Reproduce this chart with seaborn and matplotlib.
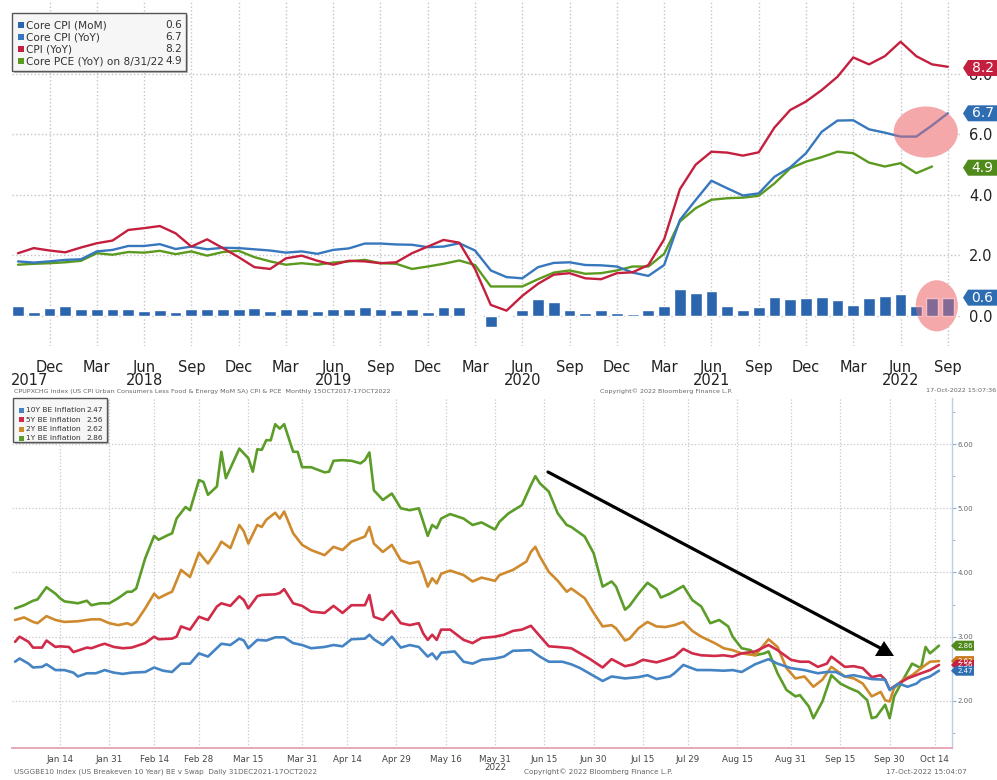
import numpy as np
import pandas as pd
import matplotlib
matplotlib.use("Agg")
import matplotlib.pyplot as plt
import seaborn as sns
from matplotlib.patches import Ellipse, Polygon, Rectangle

W, H = 997, 780

# ---------------- top panel: monthly, Oct 2017 .. Sep 2022 ----------------
core_cpi_mom = [0.33, 0.14, 0.25, 0.33, 0.24, 0.24, 0.24, 0.24, 0.17, 0.19,
                0.11, 0.23, 0.23, 0.22, 0.22, 0.26, 0.17, 0.23, 0.23, 0.17,
                0.24, 0.24, 0.29, 0.21, 0.20, 0.21, 0.12, 0.28, 0.29, -0.04,
                -0.37, -0.04, 0.20, 0.57, 0.44, 0.20, 0.08, 0.20, 0.08, 0.07,
                0.18, 0.33, 0.88, 0.75, 0.82, 0.33, 0.20, 0.28, 0.63, 0.55,
                0.58, 0.61, 0.53, 0.35, 0.58, 0.64, 0.72, 0.33, 0.58, 0.58]
core_cpi_yoy = [1.80, 1.76, 1.80, 1.85, 1.87, 2.13, 2.18, 2.31, 2.31, 2.37,
                2.21, 2.29, 2.20, 2.25, 2.24, 2.20, 2.16, 2.09, 2.13, 2.05,
                2.18, 2.23, 2.39, 2.39, 2.36, 2.35, 2.27, 2.29, 2.40, 2.16,
                1.50, 1.28, 1.24, 1.61, 1.75, 1.77, 1.68, 1.67, 1.63, 1.43,
                1.32, 1.68, 3.17, 3.83, 4.47, 4.22, 3.98, 4.05, 4.60, 4.91,
                5.38, 6.09, 6.46, 6.47, 6.17, 6.06, 5.93, 5.93, 6.30, 6.70]
cpi_yoy = [2.07, 2.24, 2.16, 2.10, 2.26, 2.40, 2.49, 2.84, 2.90, 2.97,
           2.73, 2.29, 2.53, 2.24, 1.94, 1.61, 1.55, 1.90, 1.99, 1.82,
           1.69, 1.82, 1.80, 1.74, 1.77, 2.07, 2.29, 2.51, 2.42, 1.55,
           0.36, 0.17, 0.66, 1.06, 1.36, 1.41, 1.24, 1.21, 1.41, 1.44,
           1.68, 2.53, 4.19, 5.00, 5.43, 5.40, 5.30, 5.41, 6.23, 6.81,
           7.09, 7.47, 7.91, 8.55, 8.32, 8.59, 9.07, 8.59, 8.32, 8.24]
core_pce_yoy = [1.69, 1.72, 1.74, 1.77, 1.82, 2.07, 2.02, 2.11, 2.09, 2.15,
                2.04, 2.13, 1.99, 2.11, 2.15, 1.94, 1.80, 1.69, 1.74, 1.69,
                1.76, 1.80, 1.85, 1.74, 1.72, 1.55, 1.63, 1.72, 1.83, 1.68,
                0.97, 0.97, 0.97, 1.21, 1.43, 1.50, 1.39, 1.41, 1.50, 1.63,
                1.63, 2.05, 3.12, 3.56, 3.84, 3.89, 3.91, 3.97, 4.38, 4.88,
                5.10, 5.25, 5.43, 5.38, 5.07, 4.94, 5.05, 4.72, 4.94]
top_tick_months = ["Dec", "Mar", "Jun", "Sep"] * 5
top_years = ["2017", "2018", "2019", "2020", "2021", "2022"]
top_legend = [("Core CPI (MoM)", "0.6"), ("Core CPI (YoY)", "6.7"),
              ("CPI (YoY)", "8.2"), ("Core PCE (YoY) on 8/31/22", "4.9")]

# ---------------- bottom panel: business days since 31 Dec 2021 ----------------
be1_day = [0, 2, 4, 5, 7, 9, 10, 11, 14, 16, 17, 19, 21, 23, 25, 26, 27, 29, 31, 32,
           34, 35, 36, 38, 39, 41, 42, 43, 45, 46, 47, 50, 52, 53, 54, 55, 56, 57, 58, 59,
           60, 62, 63, 64, 66, 69, 70, 71, 73, 75, 77, 78, 79, 80, 82, 84, 86, 88, 90, 91,
           92, 93, 94, 95, 97, 100, 102, 104, 107, 108, 110, 113, 115, 116, 117, 119, 121, 123, 124, 126,
           127, 129, 131, 133, 134, 136, 137, 139, 141, 143, 144, 146, 149, 151, 153, 155, 157, 159, 160, 162,
           164, 165, 167, 168, 170, 172, 174, 175, 177, 178, 180, 182, 184, 186, 188, 190, 191, 192, 194, 195,
           196, 198, 200, 202, 203, 204, 206]
be1_val = [3.44, 3.49, 3.56, 3.58, 3.77, 3.67, 3.60, 3.55, 3.52, 3.56, 3.49, 3.52, 3.52, 3.60, 3.70, 3.70, 3.75, 4.22, 4.57, 4.51,
           4.58, 4.61, 4.84, 5.02, 4.97, 5.44, 5.41, 5.21, 5.34, 5.88, 5.47, 5.93, 5.78, 5.57, 5.92, 5.91, 6.06, 6.06, 6.31, 6.24,
           6.31, 5.88, 5.88, 5.64, 5.64, 5.56, 5.57, 5.74, 5.75, 5.74, 5.70, 5.75, 5.87, 5.28, 5.13, 5.23, 5.00, 4.97, 5.00, 4.79,
           4.57, 4.74, 4.69, 4.84, 4.91, 4.84, 4.74, 4.78, 4.67, 4.79, 4.92, 5.05, 5.36, 5.50, 5.39, 5.26, 4.92, 4.74, 4.71, 4.61,
           4.56, 4.30, 3.78, 3.86, 3.78, 3.42, 3.48, 3.67, 3.84, 3.74, 3.61, 3.67, 3.79, 3.57, 3.47, 3.21, 3.26, 3.16, 3.00, 2.82,
           2.79, 2.71, 2.74, 2.77, 2.43, 2.17, 2.07, 2.09, 1.91, 1.73, 1.99, 2.40, 2.27, 2.20, 2.14, 2.01, 1.73, 1.75, 1.94, 1.73,
           2.07, 2.33, 2.58, 2.51, 2.84, 2.74, 2.86]

be2_day = [0, 2, 4, 5, 7, 9, 11, 14, 17, 19, 21, 23, 25, 26, 27, 29, 31, 32, 34, 35,
           37, 39, 41, 43, 45, 46, 48, 50, 51, 52, 54, 55, 56, 58, 59, 60, 62, 64, 66, 69,
           71, 73, 75, 78, 79, 80, 82, 84, 86, 88, 90, 91, 92, 93, 94, 95, 97, 100, 102, 104,
           107, 108, 111, 114, 115, 116, 117, 119, 121, 123, 124, 127, 129, 131, 133, 134, 136, 137, 139, 141,
           143, 145, 147, 149, 151, 153, 156, 158, 160, 162, 165, 168, 170, 172, 174, 176, 178, 180, 182, 185,
           187, 189, 191, 193, 194, 195, 196, 198, 200, 202, 204, 206]
be2_val = [3.26, 3.30, 3.23, 3.21, 3.32, 3.26, 3.23, 3.24, 3.27, 3.27, 3.21, 3.18, 3.21, 3.18, 3.23, 3.44, 3.67, 3.60, 3.67, 3.70,
           4.04, 3.93, 4.31, 4.14, 4.35, 4.48, 4.38, 4.74, 4.64, 4.45, 4.74, 4.71, 4.82, 4.93, 4.84, 4.95, 4.61, 4.43, 4.35, 4.27,
           4.40, 4.35, 4.48, 4.56, 4.71, 4.45, 4.32, 4.43, 4.19, 4.14, 4.17, 3.99, 3.78, 3.91, 3.83, 3.98, 4.03, 3.96, 3.86, 3.92,
           3.87, 3.96, 4.04, 4.17, 4.32, 4.40, 4.25, 4.01, 3.87, 3.70, 3.75, 3.60, 3.37, 3.16, 3.18, 3.13, 2.94, 2.97, 3.13, 3.23,
           3.16, 3.15, 3.18, 3.23, 3.09, 3.00, 2.90, 2.82, 2.79, 2.74, 2.71, 2.96, 2.84, 2.51, 2.35, 2.38, 2.22, 2.33, 2.53, 2.38,
           2.35, 2.27, 2.07, 2.14, 2.01, 1.99, 2.20, 2.33, 2.40, 2.51, 2.61, 2.62]

be5_day = [0, 1, 3, 4, 6, 7, 9, 10, 12, 13, 16, 17, 19, 20, 22, 24, 26, 29, 31, 32,
           35, 36, 37, 39, 41, 43, 45, 46, 48, 50, 51, 52, 54, 55, 58, 59, 60, 62, 64, 66,
           69, 71, 73, 75, 78, 79, 80, 82, 84, 86, 88, 90, 91, 92, 93, 94, 95, 97, 100, 102,
           104, 107, 109, 111, 113, 115, 117, 119, 121, 124, 126, 128, 131, 133, 136, 138, 140, 143, 145, 147,
           149, 151, 153, 156, 158, 160, 162, 165, 168, 170, 173, 175, 177, 179, 181, 182, 185, 187, 189, 191,
           193, 194, 195, 197, 199, 202, 204, 206]
be5_val = [2.92, 3.00, 2.92, 2.83, 2.83, 2.94, 2.84, 2.85, 2.84, 2.76, 2.83, 2.82, 2.87, 2.89, 2.84, 2.82, 2.83, 2.90, 3.00, 2.96,
           2.97, 3.00, 3.16, 3.11, 3.31, 3.26, 3.47, 3.52, 3.48, 3.63, 3.57, 3.44, 3.63, 3.65, 3.66, 3.68, 3.74, 3.52, 3.48, 3.39,
           3.37, 3.48, 3.37, 3.49, 3.49, 3.65, 3.31, 3.26, 3.40, 3.21, 3.18, 3.21, 3.05, 2.95, 3.03, 2.95, 3.11, 3.11, 2.95, 2.90,
           2.98, 3.00, 3.03, 3.09, 3.11, 3.17, 3.01, 2.85, 2.84, 2.82, 2.74, 2.66, 2.52, 2.65, 2.54, 2.57, 2.64, 2.60, 2.64, 2.69,
           2.81, 2.74, 2.71, 2.70, 2.71, 2.69, 2.74, 2.77, 2.87, 2.79, 2.64, 2.61, 2.61, 2.53, 2.58, 2.69, 2.53, 2.54, 2.51, 2.37,
           2.40, 2.33, 2.18, 2.27, 2.35, 2.43, 2.48, 2.56]

be10_day = [0, 1, 3, 4, 6, 7, 9, 11, 13, 14, 16, 18, 20, 22, 24, 26, 29, 31, 33, 35,
            37, 39, 41, 43, 46, 48, 50, 51, 52, 54, 56, 58, 60, 62, 64, 66, 69, 71, 73, 75,
            78, 79, 80, 82, 84, 86, 88, 90, 92, 93, 94, 95, 98, 100, 102, 104, 107, 109, 111, 115,
            117, 119, 122, 124, 126, 129, 131, 133, 136, 139, 141, 143, 146, 147, 149, 152, 155, 158, 160, 162,
            165, 168, 170, 173, 176, 179, 181, 183, 185, 187, 189, 191, 194, 195, 197, 199, 201, 202, 204, 206]
be10_val = [2.61, 2.66, 2.58, 2.52, 2.53, 2.57, 2.48, 2.48, 2.44, 2.38, 2.43, 2.43, 2.48, 2.44, 2.42, 2.44, 2.45, 2.52, 2.47, 2.45,
            2.58, 2.58, 2.74, 2.69, 2.89, 2.87, 2.97, 2.94, 2.82, 2.95, 2.94, 2.99, 2.99, 2.90, 2.87, 2.82, 2.84, 2.87, 2.85, 2.96,
            2.97, 3.03, 2.96, 2.87, 3.00, 2.83, 2.87, 2.84, 2.69, 2.74, 2.65, 2.75, 2.77, 2.61, 2.58, 2.64, 2.66, 2.69, 2.78, 2.79,
            2.69, 2.61, 2.61, 2.57, 2.51, 2.39, 2.31, 2.38, 2.35, 2.37, 2.40, 2.34, 2.38, 2.43, 2.56, 2.48, 2.48, 2.47, 2.48, 2.45,
            2.57, 2.65, 2.58, 2.51, 2.48, 2.43, 2.45, 2.45, 2.38, 2.40, 2.37, 2.34, 2.33, 2.17, 2.27, 2.22, 2.27, 2.33, 2.38, 2.47]

bottom_tick_dates = ["2022-01-14", "2022-01-31", "2022-02-14", "2022-02-28", "2022-03-15",
                     "2022-03-31", "2022-04-14", "2022-04-29", "2022-05-16", "2022-05-31",
                     "2022-06-15", "2022-06-30", "2022-07-15", "2022-07-29", "2022-08-15",
                     "2022-08-31", "2022-09-15", "2022-09-30", "2022-10-14"]
bottom_tick_labels = ["Jan 14", "Jan 31", "Feb 14", "Feb 28", "Mar 15", "Mar 31", "Apr 14",
                      "Apr 29", "May 16", "May 31", "Jun 15", "Jun 30", "Jul 15", "Jul 29",
                      "Aug 15", "Aug 31", "Sep 15", "Sep 30", "Oct 14"]
bottom_legend = [("10Y BE Inflation", "2.47"), ("5Y BE Inflation", "2.56"),
                 ("2Y BE Inflation", "2.62"), ("1Y BE Inflation", "2.86")]

# colours
c_bar = "#2b65ad"
c_core = "#3677bd"
c_cpi = "#c41f3e"
c_pce = "#5b9a1f"
c_be10 = "#4584c4"
c_be5 = "#d02c4a"
c_be2 = "#cf8a2e"
c_be1 = "#5c9d29"

sns.set_style("white")
plt.rcParams["font.family"] = ["DejaVu Sans"]

fig = plt.figure(figsize=(W / 100, H / 100), dpi=100)


def fx(x):
    return x / W


def fy(y):
    return 1 - y / H


def tag(ax, value, text, color, x0, x1, half_h, fs):
    # Bloomberg style last-value tag at the right edge
    yc = H - ax.transData.transform((0, value))[1]
    pts = [(x0, yc), (x0 + 5, yc - half_h), (x1, yc - half_h), (x1, yc + half_h), (x0 + 5, yc + half_h)]
    fig.add_artist(Polygon([(fx(a), fy(b)) for a, b in pts], closed=True,
                           transform=fig.transFigure, facecolor=color, edgecolor="none", zorder=5))
    fig.text(fx((x0 + 5 + x1) / 2), fy(yc), text, color="white", fontsize=fs,
             ha="center", va="center", zorder=6)


def legend_box(x0, y0, x1, y1, rows, colors, fs, sq, val_x, row_y):
    fig.add_artist(Rectangle((fx(x0 + 2), fy(y1 + 2)), fx(x1 - x0), (y1 - y0) / H,
                             transform=fig.transFigure, facecolor="#bbbbbb", edgecolor="none", zorder=7))
    fig.add_artist(Rectangle((fx(x0), fy(y1)), fx(x1 - x0), (y1 - y0) / H,
                             transform=fig.transFigure, facecolor="#f6f6f6", edgecolor="#555555",
                             lw=1, zorder=8))
    for (name, val), col, ry in zip(rows, colors, row_y):
        fig.add_artist(Rectangle((fx(x0 + 6), fy(ry + sq / 2)), fx(sq), sq / H,
                                 transform=fig.transFigure, facecolor=col, edgecolor="none", zorder=9))
        fig.text(fx(x0 + 8 + sq), fy(ry), name, fontsize=fs, color="#333333", va="center", zorder=9)
        fig.text(fx(val_x), fy(ry), val, fontsize=fs, color="#333333", va="center", ha="right", zorder=9)


# ======================= TOP PANEL =======================
ax1 = fig.add_axes([fx(12), fy(346), fx(962) - fx(12), 346 / H])

months = np.arange(len(core_cpi_yoy))
top = pd.DataFrame({"m": months, "Core CPI (YoY)": core_cpi_yoy, "CPI (YoY)": cpi_yoy,
                    "Core PCE (YoY)": core_pce_yoy + [np.nan]})
top_long = top.melt(id_vars="m", var_name="series", value_name="val").dropna()

sns.barplot(x=months, y=core_cpi_mom, native_scale=True, width=0.75, color=c_bar,
            saturation=1, errorbar=None, ax=ax1, zorder=2)
sns.lineplot(data=top_long, x="m", y="val", hue="series", estimator=None,
             palette={"Core CPI (YoY)": c_core, "CPI (YoY)": c_cpi, "Core PCE (YoY)": c_pce},
             hue_order=["Core PCE (YoY)", "Core CPI (YoY)", "CPI (YoY)"],
             lw=1.7, legend=False, ax=ax1, zorder=3)

ax1.set_xlim(-0.38, 59.9)
ax1.set_ylim(-1.0, 10.45)
ax1.set_xlabel("")
ax1.set_ylabel("")
ax1.set_xticks(np.arange(2, 60, 3))
ax1.set_xticklabels(top_tick_months)
ax1.set_yticks([0, 2, 4, 6, 8])
ax1.set_yticklabels(["0.0", "2.0", "4.0", "6.0", "8.0"])
ax1.yaxis.tick_right()
ax1.tick_params(axis="y", length=0, pad=5, labelsize=10.5, labelcolor="#222222")
ax1.tick_params(axis="x", length=0, pad=10, labelsize=10.5, labelcolor="#222222")
ax1.grid(True, color="#c4c4c4", ls=":", lw=1.0)
ax1.set_axisbelow(True)
for s in ax1.spines.values():
    s.set_visible(False)

year_pos = [0.76, 8, 20, 32, 44, 56]
for yp, yl in zip(year_pos, top_years):
    ax1.text(yp, -0.10, yl, transform=ax1.get_xaxis_transform(), ha="center", va="center",
             fontsize=10.5, color="#222222")

# highlight circles (semi transparent marker look)
for (cx, cy, ew, eh) in [(57.6, 6.08, 4.07, 1.69), (58.3, 0.33, 2.67, 1.69)]:
    ax1.add_patch(Ellipse((cx, cy), ew, eh, facecolor="#f9d8d2", edgecolor="none", zorder=1))
    ax1.add_patch(Ellipse((cx, cy), ew, eh, facecolor="#f06e78", alpha=0.45, edgecolor="none", zorder=4))

legend_box(12, 13, 186, 71, top_legend, [c_bar, c_core, c_cpi, c_pce], 7.6, 6, 182, [25, 37, 49, 61])

tag(ax1, 8.2, "8.2", "#c41f3e", 963, 997, 8, 10)
tag(ax1, 6.7, "6.7", "#2f6db3", 963, 997, 8, 10)
tag(ax1, 4.9, "4.9", "#4f8a1a", 963, 997, 8, 10)
tag(ax1, 0.6, "0.6", "#2f6db3", 963, 997, 8, 10)

fig.text(fx(14), fy(391), "CPUPXCHG Index (US CPI Urban Consumers Less Food & Energy MoM SA) CPI & PCE  "
         "Monthly 15OCT2017-17OCT2022", fontsize=4.6, color="#666666", va="center")
fig.text(fx(666), fy(391), "Copyright\u00a9 2022 Bloomberg Finance L.P.", fontsize=4.6,
         color="#666666", va="center", ha="center")
fig.text(fx(996), fy(391), "17-Oct-2022 15:07:36", fontsize=4.6, color="#666666",
         va="center", ha="right")

# ======================= BOTTOM PANEL =======================
ax2 = fig.add_axes([fx(12), fy(748), fx(952) - fx(12), (748 - 398) / H])

bdays = pd.bdate_range("2021-12-31", "2022-10-17")
frames = []
for name, d, v in [("10Y BE Inflation", be10_day, be10_val), ("5Y BE Inflation", be5_day, be5_val),
                   ("2Y BE Inflation", be2_day, be2_val), ("1Y BE Inflation", be1_day, be1_val)]:
    frames.append(pd.DataFrame({"day": d, "val": v, "series": name}))
bottom = pd.concat(frames, ignore_index=True)

sns.lineplot(data=bottom, x="day", y="val", hue="series", estimator=None, sort=False,
             hue_order=["1Y BE Inflation", "2Y BE Inflation", "5Y BE Inflation", "10Y BE Inflation"],
             palette={"10Y BE Inflation": c_be10, "5Y BE Inflation": c_be5,
                      "2Y BE Inflation": c_be2, "1Y BE Inflation": c_be1},
             lw=1.9, legend=False, ax=ax2)

tick_pos = bdays.get_indexer(pd.to_datetime(bottom_tick_dates))
ax2.set_xlim(-0.69, 208.9)
ax2.set_ylim(1.266, 6.718)
ax2.set_xlabel("")
ax2.set_ylabel("")
ax2.set_xticks(tick_pos)
ax2.set_xticklabels(bottom_tick_labels)
ax2.set_xticks(np.arange(0, 207, 5), minor=True)
ax2.set_yticks([2, 3, 4, 5, 6])
ax2.set_yticklabels(["2.00", "3.00", "4.00", "5.00", "6.00"])
ax2.set_yticks(np.arange(1.5, 6.6, 0.5), minor=True)
ax2.yaxis.tick_right()
ax2.tick_params(axis="y", which="both", length=3, color="#8aaad0", pad=1, labelsize=5,
                labelcolor="#666666")
ax2.tick_params(axis="y", which="minor", length=2)
ax2.tick_params(axis="x", which="both", length=3, color="#e3a3b3", pad=2, labelsize=6.3,
                labelcolor="#444444")
ax2.tick_params(axis="x", which="minor", length=1.5)
ax2.grid(True, which="major", color="#c8c8c8", ls=":", lw=0.9)
ax2.set_axisbelow(True)
for k in ["top", "left"]:
    ax2.spines[k].set_visible(False)
ax2.spines["bottom"].set_color("#e6a8b8")
ax2.spines["bottom"].set_linewidth(1.4)
ax2.spines["right"].set_color("#b8cfe6")
ax2.spines["right"].set_linewidth(1.0)

ax2.text(tick_pos[9], -0.055, "2022", transform=ax2.get_xaxis_transform(), ha="center",
         va="center", fontsize=6.3, color="#444444")

# trend arrow
fig.add_artist(plt.Line2D([fx(548), fx(884)], [fy(472), fy(650)], transform=fig.transFigure,
                          color="black", lw=2.3, zorder=6))
fig.add_artist(Polygon([(fx(875), fy(656)), (fx(894), fy(656)), (fx(884), fy(641))], closed=True,
                       transform=fig.transFigure, facecolor="black", edgecolor="none", zorder=6))

legend_box(13, 398, 107, 442, bottom_legend, [c_be10, c_be5, c_be2, c_be1], 5.4, 5, 103,
           [410, 419.5, 429, 438.5])

tag(ax2, 2.62, "2.62", "#c97a20", 951, 974, 5, 5)
tag(ax2, 2.56, "2.56", "#c8203c", 951, 974, 5, 5)
tag(ax2, 2.47, "2.47", "#2f6db3", 951, 974, 5, 5)
tag(ax2, 2.86, "2.86", "#4f8a1a", 951, 974, 5, 5)

fig.text(fx(14), fy(772), "USGGBE10 Index (US Breakeven 10 Year) BE v Swap  Daily 31DEC2021-17OCT2022",
         fontsize=5.2, color="#666666", va="center")
fig.text(fx(598), fy(772), "Copyright\u00a9 2022 Bloomberg Finance L.P.", fontsize=5.2,
         color="#666666", va="center", ha="center")
fig.text(fx(967), fy(772), "17-Oct-2022 15:04:07", fontsize=5.2, color="#666666",
         va="center", ha="right")

fig.savefig("out.png", dpi=100, facecolor="white")
